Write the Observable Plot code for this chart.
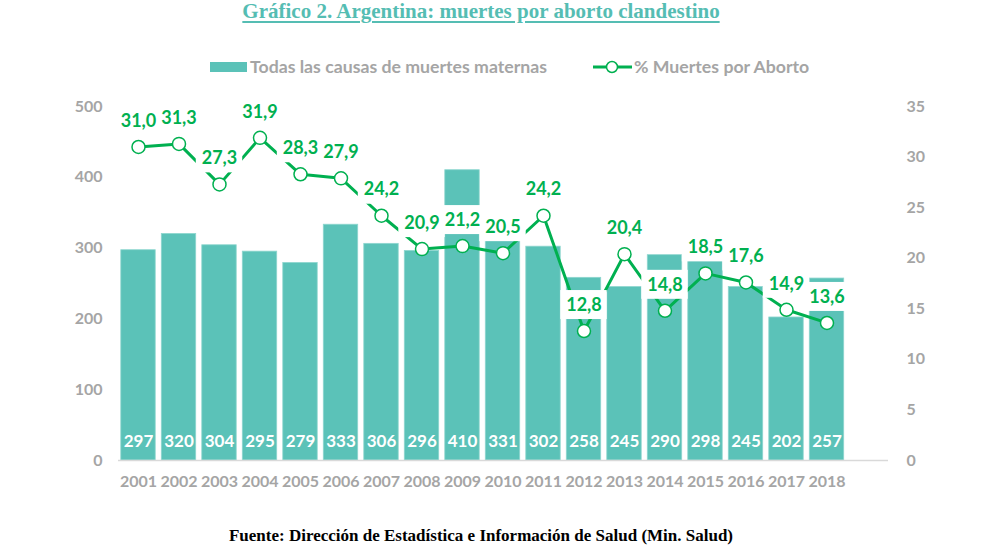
<!DOCTYPE html>
<html>
<head>
<meta charset="utf-8">
<script src="https://cdn.jsdelivr.net/npm/d3@7"></script>
<script src="https://cdn.jsdelivr.net/npm/@observablehq/plot@0.6"></script>
<style>
  body { margin: 0; background: #fff; width: 1000px; }
  #title { height: 24px; line-height: 22px; font-family: "Liberation Serif", serif; font-weight: bold; font-size: 21px; color: #55BDB3; text-align: center; padding-right: 38px; }
  #title span { text-decoration: underline; text-underline-offset: 3px; }
  #legend { height: 66px; box-sizing: border-box; padding-top: 33px; display: flex; font-family: Lato, sans-serif; font-weight: bold; font-size: 17.7px; color: #A5A5A5; line-height: 20px; }
  .item { display: flex; align-items: center; position: absolute; }
  #caption { height: 47px; box-sizing: border-box; padding-top: 18px; line-height: 16px; font-family: "Liberation Serif", serif; font-weight: bold; font-size: 17px; text-align: center; padding-right: 38px; color: #000; }
  svg { display: block; }
</style>
</head>
<body>
<div id="title"><span>Gráfico 2. Argentina: muertes por aborto clandestino</span></div>
<div id="legend">
  <div class="item" style="left:210px; top:57px;">
    <svg width="37" height="20"><rect x="0" y="5" width="37" height="10" fill="#5BC2B8"></rect></svg>
    <span style="margin-left:3px">Todas las causas de muertes maternas</span>
  </div>
  <div class="item" style="left:593px; top:57px;">
    <svg width="39" height="20"><line x1="0" x2="39" y1="10" y2="10" stroke="#00B050" stroke-width="3"></line><circle cx="19" cy="10" r="5.5" fill="#fff" stroke="#00B050" stroke-width="1.5"></circle></svg>
    <span style="margin-left:2px">% Muertes por Aborto</span>
  </div>
</div>
<div id="chart"></div>
<div id="caption">Fuente: Dirección de Estadística e Información de Salud (Min. Salud)</div>
<script>
const years = ["2001","2002","2003","2004","2005","2006","2007","2008","2009","2010","2011","2012","2013","2014","2015","2016","2017","2018"];
const muertes = [297,320,304,295,279,333,306,296,410,331,302,258,245,290,298,245,202,257];
const pctAborto = [31.0,31.3,27.3,31.9,28.3,27.9,24.2,20.9,21.2,20.5,24.2,12.8,20.4,14.8,18.5,17.6,14.9,13.6];
const leftTicks = [0,100,200,300,400,500];
const rightTicks = [0,5,10,15,20,25,30,35];

const leftMax = 500, rightMax = 35;
const k = leftMax / rightMax;
const yRange = [370, 16];
const unitsPerPx = leftMax / (yRange[0] - yRange[1]);
const labelOffsetPx = 26, boxHalfPx = 14.5;

const data = years.map((y, i) => ({year: y, muertes: muertes[i], pct: pctAborto[i], pctY: pctAborto[i] * k}));
const fmt = d3.format(".1f");
const comma = v => fmt(v).replace(".", ",");

const teal = "#5BC2B8", green = "#00B050", gray = "#A5A5A5";

const chart = Plot.plot({
  width: 1000,
  height: 420,
  marginLeft: 118,
  marginRight: 112,
  marginTop: 0,
  marginBottom: 50,
  style: {fontFamily: "Lato, sans-serif", fontWeight: "bold", fontSize: "16px", background: "#fff"},
  x: {domain: years, range: [117.75, 846.75], paddingInner: 0.15, paddingOuter: 0.075, round: false},
  y: {domain: [0, leftMax], range: yRange},
  marks: [
    Plot.barY(data, {x: "year", y: "muertes", fill: teal, stroke: "#8ED6CF", strokeWidth: 0.8}),
    Plot.ruleY([0], {stroke: "#D9D9D9", strokeWidth: 1.5}),
    Plot.text(data, {x: "year", y: 0, text: d => String(d.muertes), dy: -19, fill: "#fff", fontSize: 17, fontWeight: "bold"}),
    Plot.line(data, {x: "year", y: "pctY", stroke: green, strokeWidth: 3}),
    Plot.barY(data, {
      x: "year",
      y1: d => d.pctY + (labelOffsetPx - boxHalfPx) * unitsPerPx,
      y2: d => d.pctY + (labelOffsetPx + boxHalfPx) * unitsPerPx,
      fill: "#fff", insetLeft: -6, insetRight: -6
    }),
    Plot.text(data, {x: "year", y: "pctY", text: d => comma(d.pct), dy: -labelOffsetPx, fill: green, fontSize: 18, fontWeight: "bold"}),
    Plot.dot(data, {x: "year", y: "pctY", r: 6.5, fill: "#fff", stroke: green, strokeWidth: 1.5}),
    Plot.axisY(leftTicks, {anchor: "left", tickSize: 0, tickPadding: 16, label: null, fill: gray}),
    Plot.axisY(rightTicks.map(v => v * k), {anchor: "right", tickSize: 0, tickPadding: 18, label: null, fill: gray, textAnchor: "start", tickFormat: d => String(Math.round(d / k))}),
    Plot.axisX({tickSize: 0, tickPadding: 15, label: null, fill: gray})
  ]
});
document.getElementById("chart").appendChild(chart);
</script>
</body>
</html>
